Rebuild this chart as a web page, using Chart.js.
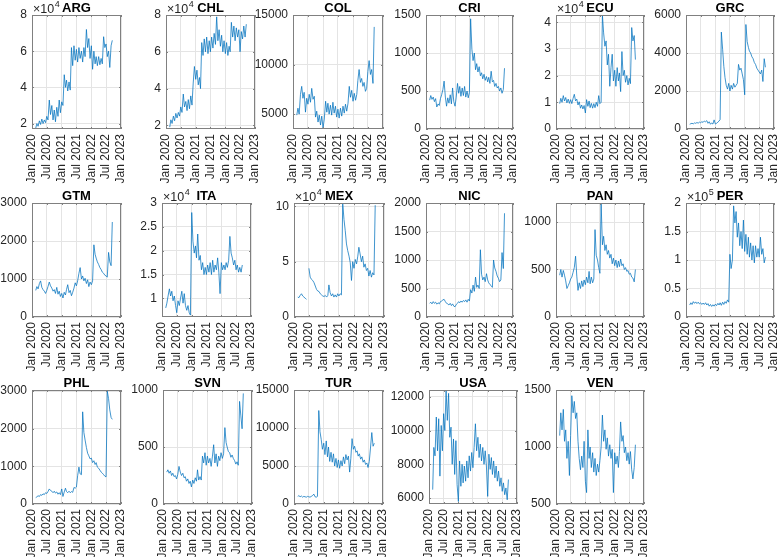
<!DOCTYPE html>
<html>
<head>
<meta charset="utf-8">
<script src="https://cdn.jsdelivr.net/npm/chart.js@4.4.0/dist/chart.umd.min.js"></script>
<style>
  html, body { margin: 0; padding: 0; background: #fff; }
  #wrap { position: relative; width: 781px; height: 557px; overflow: hidden; }
  #wrap canvas { position: absolute; }
</style>
</head>
<body>
<div id="wrap"></div>
<script>
// semi-monthly samples
const sampleDates = [
  "2020-02-16","2020-03-01","2020-03-16","2020-04-01","2020-04-16","2020-05-01","2020-05-16","2020-06-01","2020-06-16","2020-07-01","2020-07-16",
  "2020-08-01","2020-08-16","2020-09-01","2020-09-16","2020-10-01","2020-10-16","2020-11-01","2020-11-16","2020-12-01","2020-12-16",
  "2021-01-01","2021-01-16","2021-02-01","2021-02-16","2021-03-01","2021-03-16","2021-04-01","2021-04-16","2021-05-01","2021-05-16","2021-06-01","2021-06-16",
  "2021-07-01","2021-07-16","2021-08-01","2021-08-16","2021-09-01","2021-09-16","2021-10-01","2021-10-16","2021-11-01","2021-11-16","2021-12-01","2021-12-16",
  "2022-01-01","2022-01-16","2022-02-01","2022-02-16","2022-03-01","2022-03-16","2022-04-01","2022-04-16","2022-05-01","2022-05-16",
  "2022-06-01","2022-06-16","2022-07-01","2022-07-16","2022-08-01","2022-08-16","2022-09-01","2022-09-16"
];

const xTickDates = ["2020-01-01","2020-07-01","2021-01-01","2021-07-01","2022-01-01","2022-07-01","2023-01-01"];
const xTickLabels = ["Jan 2020","Jul 2020","Jan 2021","Jul 2021","Jan 2022","Jul 2022","Jan 2023"];

const countries = ["ARG","CHL","COL","CRI","ECU","GRC","GTM","ITA","MEX","NIC","PAN","PER","PHL","SVN","TUR","USA","VEN"];

const ARG = [17500,20000,18500,21500,19500,22500,20000,22000,20500,24000,22000,33000,25000,30000,22000,27500,21000,29000,24000,33000,26000,
  32000,30000,47000,40000,44000,38000,43000,38500,62000,52000,63000,55000,61000,54000,62000,56000,60000,54000,62000,57000,72000,62000,67000,56000,
  63000,50000,60000,53000,57000,52000,57000,52500,56000,53000,68000,62000,64000,57000,60000,51000,63000,66000];
const CHL = [19000,23000,21000,25000,22500,26500,24000,27000,25000,30000,27000,37000,30000,33000,28000,34000,29000,36000,31000,43000,52000,
  45000,50000,42000,46000,40000,65000,58000,67000,60000,68000,59000,66000,60000,68000,62000,70000,64000,79000,66000,72000,63000,69000,60000,66000,
  59000,65000,58000,63000,60000,76000,68000,74000,66000,73000,68000,72000,60000,71000,67000,74000,68000,75000];
const COL = [4900,5600,5000,7000,7800,6600,7200,5200,6600,6000,7000,6200,7600,6500,6800,4700,5300,4200,4900,3900,4800,
  3600,4500,6300,5200,6100,5000,5900,4900,6200,5100,5800,4700,5500,4600,5600,4800,5800,5100,6000,5300,6100,7800,6700,7400,
  6300,7100,6400,7000,8400,9500,8200,8600,7800,8200,7300,7600,9300,10400,9000,9500,8100,13800];
const CRI = [380,440,390,420,360,400,290,330,310,400,450,520,630,420,300,410,340,450,330,540,360,
  300,420,600,470,560,430,540,440,560,420,500,410,480,1450,1050,900,1000,780,860,750,820,700,740,660,
  720,640,690,620,680,600,760,620,640,560,600,540,560,500,540,470,520,800];
const ECU = [9500,11500,10000,12500,10500,11800,9800,11200,9600,11000,9500,11500,13000,10500,11200,9000,10200,7800,9000,7500,8800,
  6000,11000,8500,10500,8000,9600,7800,9500,8000,10000,8500,12500,9500,10000,42700,36000,31000,33000,24000,28000,16000,23000,28000,18000,
  22000,16000,23000,18000,21000,14000,29000,20000,22000,17500,20000,16500,19000,17000,38000,33000,35000,26000];
const GRC = [250,280,300,270,320,300,340,310,360,330,380,350,420,380,440,300,380,250,320,260,480,
  260,300,360,420,500,5100,4200,3300,2700,2300,2100,2400,2000,2300,2100,2400,2200,2300,2400,3400,3100,3200,2900,2600,
  1800,5500,4600,4300,4100,4000,3800,3700,3500,3400,3200,3100,3000,2900,3100,2500,3700,3250];
const GTM = [700,800,740,880,950,780,720,680,620,700,800,920,820,760,680,720,620,780,600,680,540,
  620,500,650,580,720,850,640,700,560,650,760,900,820,950,1150,1300,1000,1080,950,1020,880,980,800,920,
  850,950,1900,1650,1550,1450,1380,1300,1250,1180,1150,1100,1080,1050,1700,1450,1350,2500];
const ITA = [8000,9000,10500,12000,10500,11500,9500,10500,8500,7000,9500,8500,10000,11500,9000,11000,8500,7500,8500,7000,6500,
  28000,22000,19500,21000,18500,23500,18000,19000,16000,17500,15000,16500,15000,17000,15500,17500,15000,18000,15500,17000,16000,18500,15500,11000,
  17500,16000,17000,16000,17500,16500,18000,23000,19500,18500,17000,18000,16000,17000,15500,16500,15500,17000];
const MEX = [18000,17500,19500,21000,19000,18000,17000,16000,null,44000,36000,34000,33000,31000,28000,25000,23500,23000,21000,20000,19000,
  18500,19500,18000,19500,29000,22000,19000,21000,18000,20000,18000,21000,19000,21000,20000,103000,88000,78000,66000,60000,55000,49000,33000,50000,
  44000,52000,48000,55000,63000,57000,50000,55000,45000,48000,42000,44000,37000,42000,36000,40000,38000,101000];
const NIC = [240,260,230,270,240,260,225,250,230,270,280,300,310,270,240,230,210,240,200,230,190,
  180,220,240,270,250,280,260,290,270,300,260,310,280,480,420,560,450,700,520,560,500,1180,750,650,
  700,620,760,650,600,570,550,520,1000,860,800,720,680,620,650,1130,850,1820];
const PAN = [440,500,420,490,440,380,300,330,360,400,420,470,520,640,430,280,360,300,380,320,390,
  340,420,360,480,350,420,360,400,920,650,600,520,460,1200,760,850,700,760,660,700,620,660,560,620,
  540,600,520,590,530,610,540,560,500,520,480,490,450,460,420,410,370,500];
const PER = [21000,25000,22000,27000,24000,26500,23500,26000,23000,25000,22000,24500,22000,25000,21000,23500,19000,22000,18500,21500,19000,
  22500,20000,24000,21000,25000,20500,26000,22000,27000,24000,30000,26000,110000,85000,100000,195000,165000,185000,140000,165000,125000,150000,120000,170000,
  115000,145000,110000,140000,105000,130000,100000,125000,95000,125000,105000,120000,105000,140000,110000,120000,95000,105000];
const PHL = [170,190,220,200,250,230,270,250,300,280,330,400,360,340,300,340,290,320,260,300,250,
  400,200,320,420,330,300,340,300,330,310,440,420,450,750,980,800,780,2450,1900,1700,1500,1350,1280,1200,
  1220,1100,1150,1050,1100,980,950,900,850,820,780,740,720,3000,2800,2500,2300,2250];
const SVN = [280,300,270,290,250,270,240,250,220,260,330,280,250,270,230,240,200,220,180,200,150,
  210,180,230,200,300,210,240,210,420,360,450,340,420,360,400,330,420,520,360,440,330,420,380,450,
  400,440,670,540,500,460,450,410,430,400,380,350,370,340,900,780,660,970];
const TUR = [1000,1100,950,1050,900,1000,950,900,1000,950,900,1000,1100,1300,950,900,1000,12300,9500,8500,7200,
  8000,6500,8300,6200,7500,5600,6800,5500,6600,5000,6000,4800,5800,4700,5700,5000,6200,5300,6500,5800,6300,4200,6000,8600,
  7200,7600,6800,7000,6300,6600,5900,6200,5500,5800,5200,5400,4800,5600,7500,9400,7600,8000];
const USA = [6500,9000,8500,10800,8800,10700,7300,10300,8800,11000,10000,12400,10600,12200,9600,10200,8000,9500,7400,9400,6800,
  5800,8200,6700,8000,6900,7900,7000,8200,7200,8500,7600,8700,7800,9000,10400,8800,9600,8400,9200,8200,9000,8000,8800,7900,
  6100,8600,7700,8400,7400,8200,7200,7900,7000,7600,6700,7200,6400,6900,6200,6600,5900,7100];
const VEN = [1100,1300,1150,1330,1050,1150,900,1050,750,1100,1450,1300,1400,1250,1300,1050,900,800,920,820,1050,
  700,600,1150,900,1000,820,950,780,900,750,850,780,880,1000,1280,1050,1150,980,1080,920,1020,900,980,600,
  950,850,920,820,960,1220,1050,1100,950,1000,880,950,850,960,800,720,820,1020];

const series = { ARG, CHL, COL, CRI, ECU, GRC, GTM, ITA, MEX, NIC, PAN, PER, PHL, SVN, TUR, USA, VEN };

// y limits, tick values and the ×10^n exponent per panel
const yRange = {
  ARG: [17000, 80000], CHL: [18000, 80000], COL: [3500, 15000], CRI: [0, 1500], ECU: [0, 42700], GRC: [0, 6000],
  GTM: [0, 3000], ITA: [6100, 30000], MEX: [0, 103000], NIC: [0, 2000], PAN: [0, 1200], PER: [0, 200000],
  PHL: [0, 3030], SVN: [0, 1000], TUR: [0, 15000], USA: [5650, 12400], VEN: [500, 1500],
};
const yTicks = {
  ARG: [20000, 40000, 60000, 80000], CHL: [20000, 40000, 60000, 80000], COL: [5000, 10000, 15000],
  CRI: [0, 500, 1000, 1500], ECU: [0, 10000, 20000, 30000, 40000], GRC: [0, 2000, 4000, 6000],
  GTM: [0, 1000, 2000, 3000], ITA: [10000, 15000, 20000, 25000, 30000], MEX: [0, 50000, 100000],
  NIC: [0, 500, 1000, 1500, 2000], PAN: [0, 500, 1000], PER: [0, 50000, 100000, 150000, 200000],
  PHL: [0, 1000, 2000, 3000], SVN: [0, 500, 1000], TUR: [0, 5000, 10000, 15000],
  USA: [6000, 8000, 10000, 12000], VEN: [500, 1000, 1500],
};
const yExp = { ARG: 4, CHL: 4, ECU: 4, ITA: 4, MEX: 4, PER: 5 };

// plot-area boxes [left, top, right, bottom] in page pixels
const boxes = {
  ARG: [32, 15, 121, 129], CHL: [166, 15, 255, 129], COL: [293, 15, 383, 129],
  CRI: [426, 15, 513, 129], ECU: [556, 15, 644, 129], GRC: [686, 15, 774, 129],
  GTM: [32, 203, 121, 317], ITA: [162, 203, 251, 317], MEX: [294, 203, 384, 317],
  NIC: [426, 203, 513, 317], PAN: [556, 203, 644, 317], PER: [686, 203, 774, 317],
  PHL: [32, 390, 121, 504], SVN: [163, 390, 252, 504], TUR: [294, 390, 383, 504],
  USA: [429, 390, 517, 504], VEN: [556, 390, 644, 504],
};

const FONT = '"Liberation Sans", Arial, Helvetica, sans-serif';
const TXT = "#262626";
const PL = 45, PT = 18, PR = 24, PB = 64;

const dayOf = (s) => (Date.parse(s) - Date.parse("2020-01-01")) / 86400000;
const sampleDays = sampleDates.map(dayOf);
const xTickDays = xTickDates.map(dayOf);

const panelDecor = {
  id: "panelDecor",
  afterDraw(chart, args, opts) {
    const { ctx, chartArea: a } = chart;
    ctx.save();
    // box round the axes
    ctx.strokeStyle = "#808080";
    ctx.lineWidth = 1;
    ctx.strokeRect(a.left + 0.5, a.top + 0.5, a.right - a.left - 1, a.bottom - a.top - 1);
    // small inward ticks
    ctx.beginPath();
    chart.scales.x.ticks.forEach((t) => {
      const px = Math.round(chart.scales.x.getPixelForValue(t.value)) + 0.5;
      ctx.moveTo(px, a.bottom); ctx.lineTo(px, a.bottom - 2);
      ctx.moveTo(px, a.top); ctx.lineTo(px, a.top + 2);
    });
    chart.scales.y.ticks.forEach((t) => {
      const py = Math.round(chart.scales.y.getPixelForValue(t.value)) + 0.5;
      ctx.moveTo(a.left, py); ctx.lineTo(a.left + 2, py);
      ctx.moveTo(a.right, py); ctx.lineTo(a.right - 2, py);
    });
    ctx.stroke();
    // title
    ctx.fillStyle = "#000";
    ctx.font = `bold 13px ${FONT}`;
    ctx.textAlign = "center";
    ctx.textBaseline = "alphabetic";
    ctx.fillText(opts.code, (a.left + a.right) / 2, a.top - 3);
    // exponent label
    if (opts.exp) {
      ctx.fillStyle = TXT;
      ctx.textAlign = "left";
      ctx.font = `12.5px ${FONT}`;
      const base = "\u00d710";
      ctx.fillText(base, a.left + 1, a.top - 2);
      const w = ctx.measureText(base).width;
      ctx.font = `9px ${FONT}`;
      ctx.fillText(String(opts.exp), a.left + 1 + w + 0.5, a.top - 8);
    }
    ctx.restore();
  },
};

const wrap = document.getElementById("wrap");

function makePanel(code) {
  const [L, T, R, B] = boxes[code];
  const w = R - L + PL + PR;
  const h = B - T + PT + PB;
  const cv = document.createElement("canvas");
  cv.width = w;
  cv.height = h;
  cv.style.left = L - PL + "px";
  cv.style.top = T - PT + "px";
  cv.style.width = w + "px";
  cv.style.height = h + "px";
  wrap.appendChild(cv);

  const vals = series[code];
  const exp = yExp[code] || 0;
  const [ymin, ymax] = yRange[code];

  new Chart(cv, {
    type: "line",
    data: {
      datasets: [{
        data: sampleDays.map((d, i) => ({ x: d, y: vals[i] })),
        borderColor: "#0072BD",
        borderWidth: 0.75,
        pointRadius: 0,
        tension: 0,
        spanGaps: false,
        fill: false,
      }],
    },
    options: {
      responsive: false,
      animation: false,
      events: [],
      layout: { padding: { left: 0, top: PT, right: PR, bottom: 0 } },
      plugins: {
        legend: { display: false },
        tooltip: { enabled: false },
        title: { display: false },
        panelDecor: { code, exp },
      },
      scales: {
        x: {
          type: "linear",
          min: xTickDays[0],
          max: xTickDays[xTickDays.length - 1],
          afterBuildTicks: (s) => { s.ticks = xTickDays.map((v) => ({ value: v })); },
          afterFit: (s) => { s.height = PB; },
          border: { display: false },
          grid: { color: "#e4e4e4", drawTicks: false },
          ticks: {
            autoSkip: false,
            minRotation: 90,
            maxRotation: 90,
            padding: 5,
            color: TXT,
            font: { family: FONT, size: 12 },
            callback: (v, i) => xTickLabels[i],
          },
        },
        y: {
          type: "linear",
          min: ymin,
          max: ymax,
          afterBuildTicks: (s) => { s.ticks = yTicks[code].map((v) => ({ value: v })); },
          afterFit: (s) => { s.width = PL; },
          border: { display: false },
          grid: { color: "#e4e4e4", drawTicks: false },
          ticks: {
            padding: 5,
            color: TXT,
            font: { family: FONT, size: 12 },
            callback: (v) => (exp ? String(+(v / 10 ** exp).toFixed(2)) : String(v)),
          },
        },
      },
    },
    plugins: [panelDecor],
  });
}

countries.forEach(makePanel);
</script>
</body>
</html>
